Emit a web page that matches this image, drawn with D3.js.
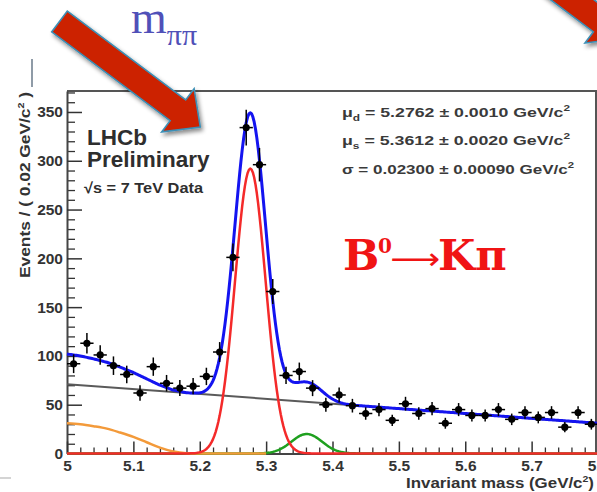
<!DOCTYPE html>
<html>
<head>
<meta charset="utf-8">
<script src="https://cdn.jsdelivr.net/npm/d3@7/dist/d3.min.js"></script>
<style>
  html, body { margin: 0; padding: 0; background: #ffffff; }
  svg { display: block; }
</style>
</head>
<body>
<svg id="chart" width="597" height="492"></svg>
<script>
// ---- Data: B0 -> K pi candidates, 0.02 GeV/c^2 bins ----
const binCentres = [5.01, 5.03, 5.05, 5.07, 5.09, 5.11, 5.13, 5.15, 5.17, 5.19,
                    5.21, 5.23, 5.25, 5.27, 5.29, 5.31, 5.33, 5.35, 5.37, 5.39,
                    5.41, 5.43, 5.45, 5.47, 5.49, 5.51, 5.53, 5.55, 5.57, 5.59,
                    5.61, 5.63, 5.65, 5.67, 5.69, 5.71, 5.73, 5.75, 5.77, 5.79];
const events = [92, 113, 101, 90, 81, 62, 89, 72, 67, 69,
                79, 104, 201, 334, 296, 166, 80, 84, 67, 50,
                60, 49, 41, 45, 34, 51, 41, 46, 31, 45,
                39, 39, 45, 35, 42, 37, 42, 27, 42, 30];
const eventErrors = [9.6, 10.6, 10.0, 9.5, 9.0, 7.9, 9.4, 8.5, 8.2, 8.3,
                     8.9, 10.2, 14.2, 18.3, 17.2, 12.9, 8.9, 9.2, 8.2, 7.1,
                     7.7, 7.0, 6.4, 6.7, 5.8, 7.1, 6.4, 6.8, 5.6, 6.7,
                     6.2, 6.2, 6.7, 5.9, 6.5, 6.1, 6.5, 5.2, 6.5, 5.5];
const binHalfWidth = 0.01;

// ---- Fit components ----
const peakMeans = [5.2762, 5.3612];      // mu_d (B0), mu_s (Bs)
const peakSigma = 0.023;
const peakHeights = [292, 20];           // events/bin at each peak
const combMassEnds = [5.0, 5.8];
const combEventEnds = [71, 31];          // linear combinatorial background
const partRecoMass = [5.00, 5.02, 5.04, 5.06, 5.08, 5.10, 5.12, 5.14, 5.16, 5.18, 5.20, 5.25, 5.30];
const partRecoEvents = [31, 30, 28, 25.5, 21.5, 17, 11.5, 6, 2, 0.3, 0, 0, 0];

// ---- Axes ----
const xMajorTicks = [5, 5.1, 5.2, 5.3, 5.4, 5.5, 5.6, 5.7, 5.8];
const xTickLabels = ["5", "5.1", "5.2", "5.3", "5.4", "5.5", "5.6", "5.7", "5.8"];
const yMajorTicks = [0, 50, 100, 150, 200, 250, 300, 350];
const yTickLabels = ["0", "50", "100", "150", "200", "250", "300", "350"];
const xMinorStep = 0.02;
const yMinorStep = 10;

// ---- Text ----
const fitParamSymbols = ["μ", "μ", "σ"];
const fitParamSubs = ["d", "s", ""];
const fitParamValues = [" = 5.2762 ± 0.0010 GeV/c", " = 5.3612 ± 0.0020 GeV/c", " = 0.02300 ± 0.00090 GeV/c"];

const svg = d3.select("#chart");

const x = d3.scaleLinear().domain([5, 5.8]).range([67, 598]);
const y = d3.scaleLinear().domain([0, 371.5]).range([453.5, 91]);

// ---- Defs ----
const defs = svg.append("defs");
const shadow = defs.append("filter").attr("id", "arrowShadow")
  .attr("x", "-20%").attr("y", "-20%").attr("width", "150%").attr("height", "150%");
shadow.append("feDropShadow").attr("dx", 2).attr("dy", 3).attr("stdDeviation", 2.2)
  .attr("flood-color", "#000").attr("flood-opacity", 0.45);

// ---- Frame ----
const frame = svg.append("g");
frame.append("line").attr("x1", 67).attr("x2", 597).attr("y1", 91).attr("y2", 91)
  .attr("stroke", "#555").attr("stroke-width", 2);
frame.append("line").attr("x1", 596).attr("x2", 596).attr("y1", 91).attr("y2", 453.5)
  .attr("stroke", "#555").attr("stroke-width", 2);

const tickFont = "'Liberation Sans', Arial, sans-serif";

// y axis: major + minor
const yMinor = d3.range(0, 371, yMinorStep).filter(v => v % 50 !== 0);
svg.append("g").attr("transform", "translate(67,0)")
  .call(d3.axisLeft(y).tickValues(yMinor).tickSizeInner(-8).tickSizeOuter(0).tickFormat(""))
  .call(g => g.select(".domain").remove())
  .call(g => g.selectAll("line").attr("stroke", "#333").attr("stroke-width", 1.3));
const yAxisG = svg.append("g").attr("transform", "translate(67,0)")
  .call(d3.axisLeft(y).tickValues(yMajorTicks).tickSizeInner(-15).tickSizeOuter(0)
        .tickPadding(4).tickFormat((d, i) => yTickLabels[i]));
yAxisG.select(".domain").attr("stroke", "#444").attr("stroke-width", 2);
yAxisG.selectAll("line").attr("stroke", "#333").attr("stroke-width", 1.5);
yAxisG.selectAll("text").attr("font-family", tickFont).attr("font-weight", "bold")
  .attr("font-size", 15.5).attr("fill", "#333");

// x axis: major + minor
const xMinor = d3.range(0, 41).map(i => 5 + i * xMinorStep).filter((v, i) => i % 5 !== 0);
svg.append("g").attr("transform", "translate(0,453.5)")
  .call(d3.axisBottom(x).tickValues(xMinor).tickSizeInner(-6).tickSizeOuter(0).tickFormat(""))
  .call(g => g.select(".domain").remove())
  .call(g => g.selectAll("line").attr("stroke", "#333").attr("stroke-width", 1.3));
const xAxisG = svg.append("g").attr("transform", "translate(0,453.5)")
  .call(d3.axisBottom(x).tickValues(xMajorTicks).tickSizeInner(-12).tickSizeOuter(0)
        .tickPadding(6).tickFormat((d, i) => xTickLabels[i]));
xAxisG.select(".domain").attr("stroke", "#444").attr("stroke-width", 2);
xAxisG.selectAll("line").attr("stroke", "#333").attr("stroke-width", 1.5);
xAxisG.selectAll("text").attr("font-family", tickFont).attr("font-weight", "bold")
  .attr("font-size", 15.5).attr("fill", "#333");

// ---- Axis titles ----
const yTitle = svg.append("text")
  .attr("transform", "translate(30,278) rotate(-90)")
  .attr("font-family", tickFont).attr("font-weight", "bold").attr("font-size", 14.5)
  .attr("fill", "#333").attr("textLength", 186).attr("lengthAdjust", "spacingAndGlyphs");
yTitle.append("tspan").text("Events / ( 0.02 GeV/c");
yTitle.append("tspan").attr("font-size", 9).attr("dy", -6).text("2");
yTitle.append("tspan").attr("dy", 6).text(" )");

const xTitle = svg.append("text")
  .attr("x", 594).attr("y", 488).attr("text-anchor", "end")
  .attr("font-family", tickFont).attr("font-weight", "bold").attr("font-size", 14.5)
  .attr("fill", "#333").attr("textLength", 188).attr("lengthAdjust", "spacingAndGlyphs");
xTitle.append("tspan").text("Invariant mass (GeV/c");
xTitle.append("tspan").attr("font-size", 9).attr("dy", -6).text("2");
xTitle.append("tspan").attr("dy", 6).text(")");

// ---- Fit curves ----
const grid = d3.range(5.0, 5.8001, 0.002);
const gauss = (m, mu, h) => h * Math.exp(-0.5 * ((m - mu) / peakSigma) ** 2);
const comb = d3.scaleLinear().domain(combMassEnds).range(combEventEnds);
const partReco = d3.scaleLinear().domain(partRecoMass).range(partRecoEvents).clamp(true);

const line = d3.line().x(d => x(d[0])).y(d => y(d[1]));
const curves = svg.append("g").attr("fill", "none").attr("stroke-linejoin", "round");

curves.append("path")
  .attr("d", line(combMassEnds.map((m, i) => [m, combEventEnds[i]])))
  .attr("stroke", "#5a5a5a").attr("stroke-width", 2);
curves.append("path")
  .attr("d", line(grid.map(m => [m, gauss(m, peakMeans[1], peakHeights[1])])))
  .attr("stroke", "#1fa01f").attr("stroke-width", 2.5);
curves.append("path")
  .attr("d", d3.line().curve(d3.curveMonotoneX).x(d => x(d[0])).y(d => y(d[1]))(
    partRecoMass.map((m, i) => [m, partRecoEvents[i]])))
  .attr("stroke", "#f39a3a").attr("stroke-width", 2.5);
curves.append("path")
  .attr("d", line(grid.map(m => [m, gauss(m, peakMeans[0], peakHeights[0])])))
  .attr("stroke", "#f42a2a").attr("stroke-width", 2.5);
curves.append("path")
  .attr("d", line(grid.map(m => [m,
      gauss(m, peakMeans[0], peakHeights[0]) + gauss(m, peakMeans[1], peakHeights[1]) +
      comb(m) + partReco(m)])))
  .attr("stroke", "#1414f0").attr("stroke-width", 3);

// ---- Data points with errors ----
const pts = svg.append("g");
binCentres.forEach((m, i) => {
  const g = pts.append("g").attr("stroke", "#000").attr("stroke-width", 1.5);
  g.append("line").attr("x1", x(m)).attr("x2", x(m))
    .attr("y1", y(events[i] - eventErrors[i])).attr("y2", y(events[i] + eventErrors[i]));
  g.append("line").attr("x1", x(m - binHalfWidth)).attr("x2", x(m + binHalfWidth))
    .attr("y1", y(events[i])).attr("y2", y(events[i]));
  g.append("circle").attr("cx", x(m)).attr("cy", y(events[i])).attr("r", 3.6)
    .attr("fill", "#000").attr("stroke", "none");
});

// ---- Plot annotations ----
const lhcbFont = "'Liberation Sans', Arial, sans-serif";
svg.append("text").attr("x", 87).attr("y", 145).attr("font-family", lhcbFont)
  .attr("font-weight", "bold").attr("font-size", 22.5).attr("fill", "#2e2e2e").text("LHCb");
svg.append("text").attr("x", 87).attr("y", 167).attr("font-family", lhcbFont)
  .attr("font-weight", "bold").attr("font-size", 22.5).attr("fill", "#2e2e2e").text("Preliminary");
svg.append("text").attr("x", 84).attr("y", 193).attr("font-family", lhcbFont)
  .attr("font-weight", "bold").attr("font-size", 15).attr("fill", "#2e2e2e")
  .attr("textLength", 119).attr("lengthAdjust", "spacingAndGlyphs")
  .text("√s = 7 TeV Data");

const paramBaselines = [117, 145, 174];
const paramLengths = [228, 228, 232];
fitParamSymbols.forEach((s, i) => {
  const t = svg.append("text").attr("x", 342).attr("y", paramBaselines[i])
    .attr("font-family", lhcbFont).attr("font-weight", "bold").attr("font-size", 13.5)
    .attr("fill", "#3a3a3a").attr("textLength", paramLengths[i])
    .attr("lengthAdjust", "spacingAndGlyphs");
  t.append("tspan").text(s);
  if (fitParamSubs[i]) t.append("tspan").attr("font-size", 9).attr("dy", 4).text(fitParamSubs[i]);
  t.append("tspan").attr("dy", fitParamSubs[i] ? -4 : 0).text(fitParamValues[i]);
  t.append("tspan").attr("font-size", 9).attr("dy", -6).text("2");
});

// Decay label
const decayFont = "'DejaVu Serif', serif";
const decayColour = "#f01414";
svg.append("text").attr("x", 343).attr("y", 270).attr("font-family", decayFont)
  .attr("font-weight", "bold").attr("font-size", 43).attr("fill", decayColour).text("B");
svg.append("text").attr("x", 378).attr("y", 253).attr("font-family", decayFont)
  .attr("font-weight", "bold").attr("font-size", 20).attr("fill", decayColour).text("0");
svg.append("text").attr("x", 390).attr("y", 269).attr("font-family", "'DejaVu Sans', sans-serif")
  .attr("font-size", 30).attr("fill", decayColour)
  .attr("textLength", 50).attr("lengthAdjust", "spacingAndGlyphs").text("⟶");
svg.append("text").attr("x", 438).attr("y", 270).attr("font-family", decayFont)
  .attr("font-weight", "bold").attr("font-size", 43).attr("fill", decayColour).text("Kπ");

// ---- Slide decorations ----
svg.append("line").attr("x1", 32).attr("x2", 32).attr("y1", 59).attr("y2", 87)
  .attr("stroke", "#6a7a8a").attr("stroke-width", 1.5);
svg.append("line").attr("x1", 0).attr("x2", 11).attr("y1", 478).attr("y2", 478)
  .attr("stroke", "#d4d4d4").attr("stroke-width", 2);

const mText = svg.append("text").attr("x", 131).attr("y", 33)
  .attr("font-family", "'Liberation Serif', 'Times New Roman', serif").attr("fill", "#5050b8");
mText.append("tspan").attr("font-size", 46).text("m");
mText.append("tspan").attr("font-size", 30).attr("dy", 12).text("ππ");

// Block arrows
function blockArrow(sx, sy, ux, uy, len, shaftHalf, headHalf, headLen) {
  const nx = -uy, ny = ux, b = len - headLen;
  const P = (t, s) => [sx + ux * t + nx * s, sy + uy * t + ny * s];
  return [P(0, -shaftHalf), P(b, -shaftHalf), P(b, -headHalf), P(len, 0),
          P(b, headHalf), P(b, shaftHalf), P(0, shaftHalf)];
}
const arrowPath = d3.line();
[[59.5, 21.5], [482.8, -67.4]].forEach(([sx, sy]) => {
  svg.append("path")
    .attr("d", arrowPath(blockArrow(sx, sy, 0.8, 0.6, 176, 13, 27, 28)) + "Z")
    .attr("fill", "#cc2000").attr("stroke", "#3d8fb5").attr("stroke-width", 1.6)
    .attr("stroke-linejoin", "miter").attr("filter", "url(#arrowShadow)");
});
</script>
</body>
</html>
